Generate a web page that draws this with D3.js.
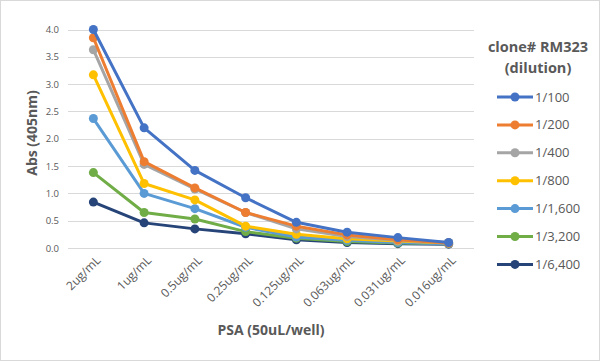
<!DOCTYPE html>
<html>
<head>
<meta charset="utf-8">
<script src="https://cdn.jsdelivr.net/npm/d3@7"></script>
<style>
  body { margin: 0; background: #fff; }
  svg { font-family: "Open Sans", sans-serif; display: block; }
</style>
</head>
<body>
<div id="chart"></div>
<script>
// concentrations along the x axis
var concentrations = ["2ug/mL", "1ug/mL", "0.5ug/mL", "0.25ug/mL", "0.125ug/mL", "0.063ug/mL", "0.031ug/mL", "0.016ug/mL"];
var dilutions = ["1/100", "1/200", "1/400", "1/800", "1/1,600", "1/3,200", "1/6,400"];
var colors = ["#4472C4", "#ED7D31", "#A5A5A5", "#FFC000", "#5B9BD5", "#70AD47", "#264478"];
var yTicks = [0, 0.5, 1, 1.5, 2, 2.5, 3, 3.5, 4];

// absorbance values, one array per dilution
var d100 = [4.00, 2.20, 1.42, 0.92, 0.47, 0.29, 0.19, 0.10];
var d200 = [3.85, 1.58, 1.10, 0.65, 0.40, 0.24, 0.15, 0.09];
var d400 = [3.63, 1.53, 1.08, 0.65, 0.35, 0.21, 0.14, 0.10];
var d800 = [3.17, 1.18, 0.88, 0.40, 0.25, 0.17, 0.13, 0.09];
var d1600 = [2.37, 1.00, 0.72, 0.38, 0.20, 0.14, 0.10, 0.08];
var d3200 = [1.38, 0.65, 0.53, 0.30, 0.18, 0.12, 0.09, 0.08];
var d6400 = [0.84, 0.46, 0.35, 0.26, 0.15, 0.10, 0.08, 0.07];
var series = [d100, d200, d400, d800, d1600, d3200, d6400];

var width = 600, height = 361;
var svg = d3.select("#chart").append("svg").attr("width", width).attr("height", height);

// chart border
svg.append("rect").attr("x", 0.5).attr("y", 0.5).attr("width", width - 1).attr("height", height - 1)
  .attr("fill", "#fff").attr("stroke", "#d9d9d9");

var x = d3.scaleBand().domain(concentrations).range([68, 474]);
var y = d3.scaleLinear().domain([0, 4]).range([248, 29.5]);

// gridlines
svg.append("g").selectAll("line").data(yTicks).enter().append("line")
  .attr("x1", 68).attr("x2", 474)
  .attr("y1", function(d) { return Math.round(y(d)) + 0.5; })
  .attr("y2", function(d) { return Math.round(y(d)) + 0.5; })
  .attr("stroke", "#d9d9d9").attr("stroke-width", 1);

// y tick labels
svg.append("g").selectAll("text").data(yTicks).enter().append("text")
  .attr("x", 59).attr("y", function(d) { return y(d) + 3.5; })
  .attr("text-anchor", "end").attr("font-size", 9.5).attr("fill", "#595959")
  .text(function(d) { return d.toFixed(1); });

// x tick labels
svg.append("g").selectAll("text").data(concentrations).enter().append("text")
  .attr("transform", function(d) { return "translate(" + (x(d) + x.bandwidth() / 2 + 8) + ",261) rotate(-45)"; })
  .attr("text-anchor", "end").attr("font-size", 12).attr("fill", "#595959")
  .text(function(d) { return d; });

// axis titles
svg.append("text").attr("x", 271).attr("y", 335).attr("text-anchor", "middle")
  .attr("font-size", 14).attr("font-weight", "bold").attr("fill", "#595959").text("PSA (50uL/well)");
svg.append("text").attr("transform", "translate(37,133) rotate(-90)").attr("text-anchor", "middle")
  .attr("font-size", 14).attr("font-weight", "bold").attr("fill", "#595959").text("Abs (405nm)");

var line = d3.line()
  .x(function(d, i) { return x(concentrations[i]) + x.bandwidth() / 2; })
  .y(function(d) { return y(d); });

// draw lines from last to first so 1/100 sits on top
for (var s = series.length - 1; s >= 0; s--) {
  var g = svg.append("g");
  g.append("path").datum(series[s]).attr("d", line)
    .attr("fill", "none").attr("stroke", colors[s]).attr("stroke-width", 3).attr("stroke-linejoin", "round");
  g.selectAll("circle").data(series[s]).enter().append("circle")
    .attr("cx", function(d, i) { return x(concentrations[i]) + x.bandwidth() / 2; })
    .attr("cy", function(d) { return y(d); })
    .attr("r", 4.5).attr("fill", colors[s]);
}

// legend
var legend = svg.append("g");
legend.append("text").attr("x", 538).attr("y", 52).attr("text-anchor", "middle")
  .attr("font-size", 14.5).attr("font-weight", "bold").attr("fill", "#595959").text("clone# RM323");
legend.append("text").attr("x", 538).attr("y", 73).attr("text-anchor", "middle")
  .attr("font-size", 14.5).attr("font-weight", "bold").attr("fill", "#595959").text("(dilution)");

var items = legend.selectAll("g.item").data(dilutions).enter().append("g")
  .attr("transform", function(d, i) { return "translate(0," + (97 + i * 27.9) + ")"; });
items.append("line").attr("x1", 497).attr("x2", 533).attr("y1", 0).attr("y2", 0)
  .attr("stroke", function(d, i) { return colors[i]; }).attr("stroke-width", 3);
items.append("circle").attr("cx", 515).attr("cy", 0).attr("r", 4.5)
  .attr("fill", function(d, i) { return colors[i]; });
items.append("text").attr("x", 535).attr("y", 4.5).attr("font-size", 13).attr("fill", "#595959")
  .text(function(d) { return d; });
</script>
</body>
</html>
